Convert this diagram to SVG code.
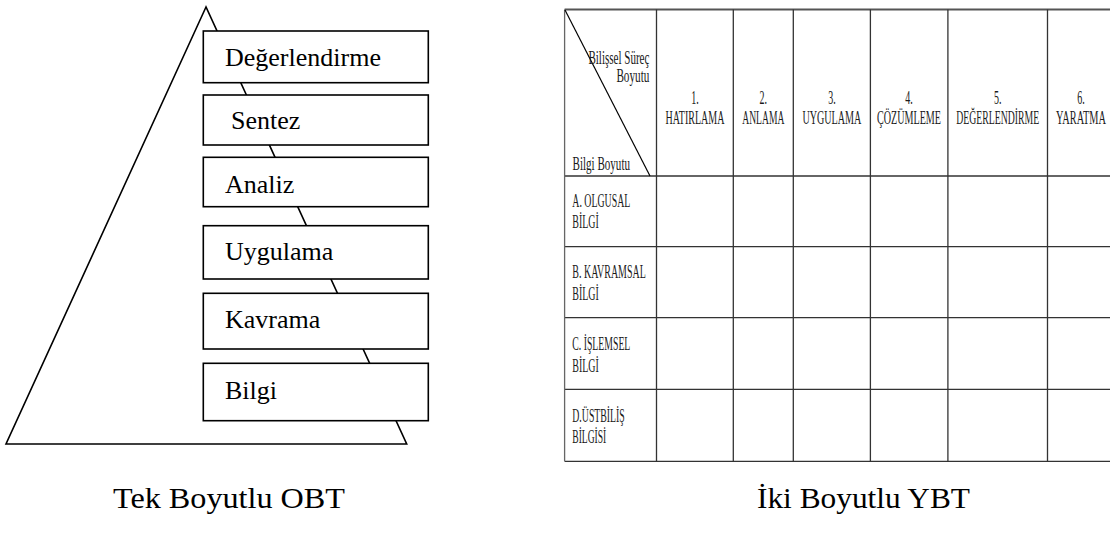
<svg xmlns="http://www.w3.org/2000/svg" width="1110" height="534" viewBox="0 0 1110 534">
<style>
.box{fill:#fff;stroke:#000;stroke-width:1.6}
.serif{font-family:'Liberation Serif',serif}
.lbl{font-size:26px;fill:#000}
.cap{font-size:30px;fill:#000}
.tt{font-size:19px;fill:#1a1a1a}
.mid{text-anchor:middle}
.end{text-anchor:end}
.grid{stroke:#333;stroke-width:1.3;fill:none}
</style>
<rect width="1110" height="534" fill="#fff"/>
<g id="pyramid">
<polygon points="206,7 6,444 406.7,444" fill="#fff" stroke="#000" stroke-width="1.6"/>
</g>
<g id="node-degerlendirme"><rect class="box" x="203.3" y="31" width="225" height="51.7"/><text class="serif lbl" font-family="Liberation Serif" x="225" y="66">Değerlendirme</text></g>
<g id="node-sentez"><rect class="box" x="203.3" y="95" width="225" height="50"/><text class="serif lbl" font-family="Liberation Serif" x="231" y="129.3">Sentez</text></g>
<g id="node-analiz"><rect class="box" x="203.3" y="157.3" width="225" height="49.4"/><text class="serif lbl" font-family="Liberation Serif" x="225" y="192.7">Analiz</text></g>
<g id="node-uygulama"><rect class="box" x="203.3" y="225.7" width="225" height="53.3"/><text class="serif lbl" font-family="Liberation Serif" x="225" y="260">Uygulama</text></g>
<g id="node-kavrama"><rect class="box" x="203.3" y="293.3" width="225" height="55.7"/><text class="serif lbl" font-family="Liberation Serif" x="225" y="328.3">Kavrama</text></g>
<g id="node-bilgi"><rect class="box" x="203.3" y="363.3" width="225" height="57.4"/><text class="serif lbl" font-family="Liberation Serif" x="225" y="399.3">Bilgi</text></g>
<g id="table-lines" class="grid">
<line x1="564.6" y1="9.5" x2="1110" y2="9.5" stroke="#555" stroke-width="1.8"/>
<line x1="564.6" y1="176" x2="1110" y2="176"/>
<line x1="564.6" y1="246.7" x2="1110" y2="246.7"/>
<line x1="564.6" y1="317.7" x2="1110" y2="317.7"/>
<line x1="564.6" y1="389.3" x2="1110" y2="389.3"/>
<line x1="564.6" y1="461.3" x2="1110" y2="461.3"/>
<line x1="564.6" y1="9.5" x2="564.6" y2="461.3" stroke="#666"/>
<line x1="656.5" y1="9.5" x2="656.5" y2="461.3"/>
<line x1="733.3" y1="9.5" x2="733.3" y2="461.3"/>
<line x1="793.3" y1="9.5" x2="793.3" y2="461.3"/>
<line x1="870.4" y1="9.5" x2="870.4" y2="461.3"/>
<line x1="947.9" y1="9.5" x2="947.9" y2="461.3"/>
<line x1="1047.5" y1="9.5" x2="1047.5" y2="461.3"/>
<line x1="565" y1="10" x2="650" y2="176" stroke="#000" stroke-width="1.2"/>
</g>
<g id="table-header" font-family="Liberation Serif">
<text class="serif tt end" x="649.4" y="64" textLength="61" lengthAdjust="spacingAndGlyphs">Bilişsel Süreç</text>
<text class="serif tt end" x="649.4" y="82" textLength="33" lengthAdjust="spacingAndGlyphs">Boyutu</text>
<text class="serif tt" x="572.5" y="170" textLength="57.5" lengthAdjust="spacingAndGlyphs">Bilgi Boyutu</text>
<text class="serif tt mid" x="695" y="104" textLength="7.5" lengthAdjust="spacingAndGlyphs">1.</text>
<text class="serif tt mid" x="695" y="124" textLength="59" lengthAdjust="spacingAndGlyphs">HATIRLAMA</text>
<text class="serif tt mid" x="763.3" y="104" textLength="7.5" lengthAdjust="spacingAndGlyphs">2.</text>
<text class="serif tt mid" x="763.3" y="124" textLength="42" lengthAdjust="spacingAndGlyphs">ANLAMA</text>
<text class="serif tt mid" x="831.9" y="104" textLength="7.5" lengthAdjust="spacingAndGlyphs">3.</text>
<text class="serif tt mid" x="831.9" y="124" textLength="59" lengthAdjust="spacingAndGlyphs">UYGULAMA</text>
<text class="serif tt mid" x="909" y="104" textLength="7.5" lengthAdjust="spacingAndGlyphs">4.</text>
<text class="serif tt mid" x="909" y="124" textLength="64" lengthAdjust="spacingAndGlyphs">ÇÖZÜMLEME</text>
<text class="serif tt mid" x="997.7" y="104" textLength="7.5" lengthAdjust="spacingAndGlyphs">5.</text>
<text class="serif tt mid" x="997.7" y="124" textLength="83" lengthAdjust="spacingAndGlyphs">DEĞERLENDİRME</text>
<text class="serif tt mid" x="1081" y="104" textLength="7.5" lengthAdjust="spacingAndGlyphs">6.</text>
<text class="serif tt mid" x="1081" y="124" textLength="50" lengthAdjust="spacingAndGlyphs">YARATMA</text>
</g>
<g id="table-rows" font-family="Liberation Serif">
<text class="serif tt" x="572.3" y="206.5" textLength="58" lengthAdjust="spacingAndGlyphs">A. OLGUSAL</text>
<text class="serif tt" x="572.3" y="228.3" textLength="26.5" lengthAdjust="spacingAndGlyphs">BİLGİ</text>
<text class="serif tt" x="572.3" y="278.3" textLength="73.5" lengthAdjust="spacingAndGlyphs">B. KAVRAMSAL</text>
<text class="serif tt" x="572.3" y="300" textLength="26.5" lengthAdjust="spacingAndGlyphs">BİLGİ</text>
<text class="serif tt" x="572.3" y="350" textLength="58" lengthAdjust="spacingAndGlyphs">C. İŞLEMSEL</text>
<text class="serif tt" x="572.3" y="371.7" textLength="26.5" lengthAdjust="spacingAndGlyphs">BİLGİ</text>
<text class="serif tt" x="572.3" y="421.7" textLength="52.5" lengthAdjust="spacingAndGlyphs">D.ÜSTBİLİŞ</text>
<text class="serif tt" x="572.3" y="443.3" textLength="34" lengthAdjust="spacingAndGlyphs">BİLGİSİ</text>
</g>
<g id="captions" font-family="Liberation Serif">
<text class="serif cap" x="113" y="508" textLength="232" lengthAdjust="spacingAndGlyphs">Tek Boyutlu OBT</text>
<text class="serif cap" x="757" y="508" textLength="213" lengthAdjust="spacingAndGlyphs">İki Boyutlu YBT</text>
</g>
</svg>
